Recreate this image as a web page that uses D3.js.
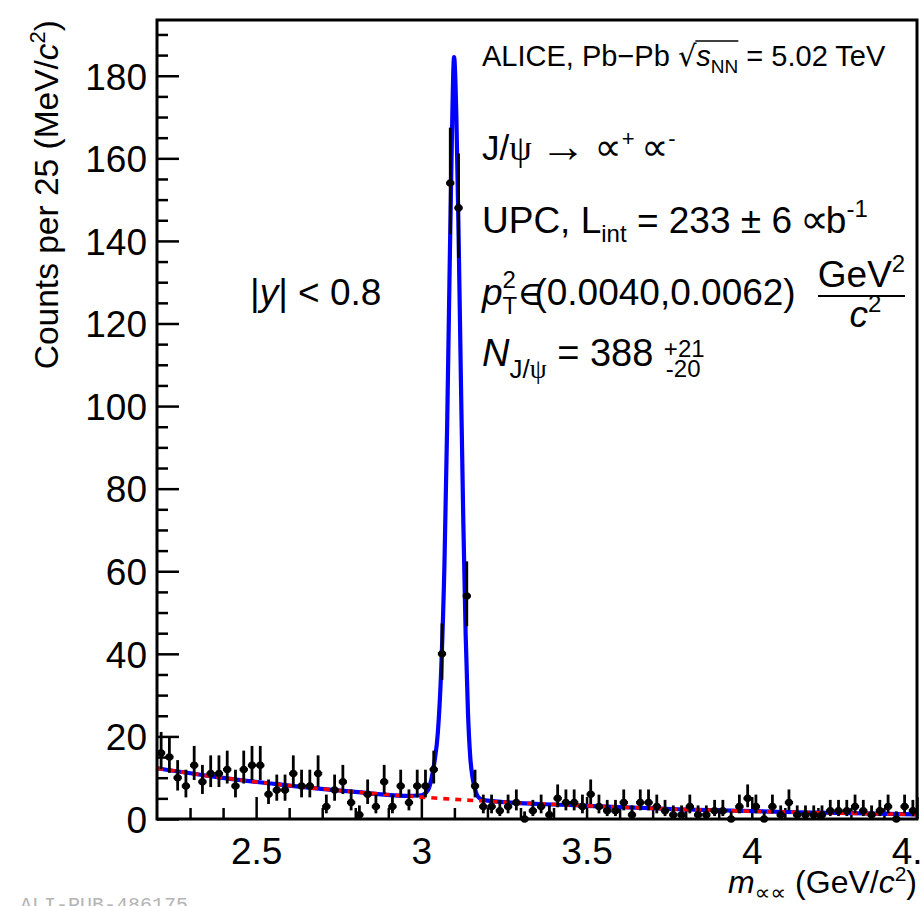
<!DOCTYPE html>
<html>
<head>
<meta charset="utf-8">
<script src="https://cdn.jsdelivr.net/npm/d3@7"></script>
<style>
  body { margin: 0; background: #fff; }
  svg { display: block; }
  text { font-family: "Liberation Sans", Arial, Helvetica, sans-serif; fill: #000; white-space: pre; }
</style>
</head>
<body>
<script>
// histogram: counts per 25 MeV bin, from 2.2 to 4.5 GeV/c2
var binLow = 2.2, binWidth = 0.025;
var counts = [16, 15, 10, 8, 13, 9, 11, 11, 12, 8, 12, 13, 13, 6, 7, 7, 11, 8, 8, 11, 3, 7, 9, 4, 1, 6, 3, 9, 3, 8,
              4, 8, 8, 12, 40, 154, 148, 54, 8, 3, 3, 2, 3, 4, 0, 2, 3, 1, 5, 4, 4, 3, 6, 3, 2, 2, 4, 1, 4, 4,
              3, 2, 1, 1, 3, 1, 1, 2, 2, 0, 3, 5, 3, 0, 3, 1, 4, 1, 1, 1, 1, 2, 2, 2, 3, 2, 1, 2, 3, 0, 3, 2];

// fit curves
var fitMass  = [2.2, 2.4, 2.6, 2.8, 2.95, 3.0, 3.02, 3.03, 3.04, 3.05, 3.06, 3.07, 3.078, 3.085, 3.092, 3.099,
                3.106, 3.113, 3.12, 3.127, 3.134, 3.141, 3.148, 3.155, 3.165, 3.18, 3.2, 3.5, 3.8, 4.1, 4.5];
var fitTotal = [12.3, 9.95, 8.1, 6.55, 5.6, 5.75, 7.0, 9.5, 14, 21, 36, 62, 95, 130, 163, 184.5,
                170, 140, 105, 72, 45, 26, 15, 10, 6.5, 4.8, 4.45, 3.2, 2.3, 1.7, 1.1];
var bgMass = [2.2, 2.4, 2.6, 2.8, 3.0, 3.2, 3.5, 3.8, 4.1, 4.5];
var bgVal  = [12.3, 9.95, 8.1, 6.55, 5.3, 4.3, 3.2, 2.3, 1.7, 1.1];

// axis ticks
var xMajor = [2.5, 3, 3.5, 4, 4.5];
var yMajor = [0, 20, 40, 60, 80, 100, 120, 140, 160, 180];

window.onload = drawChart();

function drawChart(){
    var width = 923, height = 906;
    var fLeft = 157, fRight = 917, fTop = 20, fBottom = 819;

    var svg = d3.select("body").append("svg")
        .attr("width", width)
        .attr("height", height);

    svg.append("rect").attr("width", width).attr("height", height).attr("fill", "#fff");

    var x = d3.scaleLinear().domain([2.2, 4.5]).range([fLeft, fRight]);
    var y = d3.scaleLinear().domain([0, 193.5]).range([fBottom, fTop]);

    //poisson (garwood) interval, wilson-hilferty form
    function errLow(n) {
        if (n <= 0) return 0;
        return n * Math.pow(1 - 1 / (9 * n) - 1 / (3 * Math.sqrt(n)), 3);
    }
    function errHigh(n) {
        if (n <= 0) return 1.841;
        var m = n + 1;
        return m * Math.pow(1 - 1 / (9 * m) + 1 / (3 * Math.sqrt(m)), 3);
    }

    // axes (ticks point inwards like ROOT)
    var yMinor = d3.range(0, 194, 5).filter(function(d){ return d % 20 !== 0; });
    var xMinor = d3.range(2.3, 4.5, 0.1).map(function(d){ return +d.toFixed(1); })
        .filter(function(d){ return xMajor.indexOf(d) < 0; });

    var gy = svg.append("g").attr("transform", "translate(" + fLeft + ",0)")
        .call(d3.axisLeft(y).tickValues(yMajor).tickSize(-22).tickPadding(10).tickFormat(d3.format("d")));
    var gy2 = svg.append("g").attr("transform", "translate(" + fLeft + ",0)")
        .call(d3.axisLeft(y).tickValues(yMinor).tickSize(-11).tickFormat(""));
    var gx = svg.append("g").attr("transform", "translate(0," + fBottom + ")")
        .call(d3.axisBottom(x).tickValues(xMajor).tickSize(-22).tickPadding(19).tickFormat(function(d){ return d; }));
    var gx2 = svg.append("g").attr("transform", "translate(0," + fBottom + ")")
        .call(d3.axisBottom(x).tickValues(xMinor).tickSize(-11).tickFormat(""));

    [gy, gy2, gx, gx2].forEach(function(g){
        g.select(".domain").remove();
        g.selectAll("line").attr("stroke", "#000").attr("stroke-width", 2.5);
        g.selectAll("text").style("font-size", "37px").attr("fill", "#000")
            .style("font-family", "'Liberation Sans', Arial, sans-serif");
    });
    gy.selectAll("text").attr("dy", "0.36em");

    // curves
    svg.append("clipPath").attr("id", "frame")
        .append("rect").attr("x", fLeft).attr("y", fTop).attr("width", fRight - fLeft).attr("height", fBottom - fTop);

    var line = d3.line()
        .x(function(d){ return x(d[0]); })
        .y(function(d){ return y(d[1]); })
        .curve(d3.curveMonotoneX);

    var plot = svg.append("g").attr("clip-path", "url(#frame)");

    plot.append("path")
        .datum(d3.zip(fitMass, fitTotal))
        .attr("d", line)
        .attr("fill", "none")
        .attr("stroke", "#0000ff")
        .attr("stroke-width", 4.2);

    plot.append("path")
        .datum(d3.zip(bgMass, bgVal))
        .attr("d", line)
        .attr("fill", "none")
        .attr("stroke", "#ff0000")
        .attr("stroke-width", 3.6)
        .attr("stroke-dasharray", "6,6");

    // data points
    var pts = svg.append("g").selectAll("g")
        .data(counts.map(function(c, i){ return { m: binLow + (i + 0.5) * binWidth, n: c }; }))
        .enter().append("g");

    pts.append("line")
        .attr("x1", function(d){ return x(d.m); })
        .attr("x2", function(d){ return x(d.m); })
        .attr("y1", function(d){ return y(errLow(d.n)); })
        .attr("y2", function(d){ return y(errHigh(d.n)); })
        .attr("stroke", "#000").attr("stroke-width", 2.8);

    pts.append("line")
        .attr("x1", function(d){ return x(d.m - binWidth / 2); })
        .attr("x2", function(d){ return x(d.m + binWidth / 2); })
        .attr("y1", function(d){ return y(d.n); })
        .attr("y2", function(d){ return y(d.n); })
        .attr("stroke", "#000").attr("stroke-width", 3);

    pts.append("circle")
        .attr("cx", function(d){ return x(d.m); })
        .attr("cy", function(d){ return y(d.n); })
        .attr("r", 3.8)
        .attr("fill", "#000");

    // frame
    svg.append("rect")
        .attr("x", fLeft).attr("y", fTop)
        .attr("width", fRight - fLeft).attr("height", fBottom - fTop)
        .attr("fill", "none").attr("stroke", "#000").attr("stroke-width", 3);

    // text helper: sequence of pieces laid left to right
    var txt = svg.append("g");
    function seq(x0, y0, parts) {
        var cx = x0, pos = [];
        parts.forEach(function(p){
            var t = txt.append("text")
                .attr("x", cx + (p.dx || 0))
                .attr("y", y0 + (p.dy || 0))
                .style("font-size", p.fs + "px")
                .text(p.t);
            if (p.it) t.style("font-style", "italic");
            if (p.fam) t.style("font-family", p.fam);
            var w = t.node().getComputedTextLength();
            pos.push([cx + (p.dx || 0), cx + (p.dx || 0) + w]);
            if (!p.stay) cx += (p.dx || 0) + w;
        });
        return pos;
    }
    var serif = "'Liberation Serif', 'DejaVu Serif', serif";
    var dejavu = "'DejaVu Sans', sans-serif";

    // ALICE line
    var p1 = seq(482, 66, [
        { t: "ALICE, Pb\u2212Pb ", fs: 29 },
        { t: "\u221A", fs: 29, fam: dejavu },
        { t: "s", fs: 29, it: true },
        { t: "NN", fs: 19, dy: 7 },
        { t: " = 5.02 TeV", fs: 29 }
    ]);
    txt.append("line")
        .attr("x1", p1[1][1] - 1).attr("x2", p1[3][1])
        .attr("y1", 41).attr("y2", 41)
        .attr("stroke", "#000").attr("stroke-width", 1.5);

    // J/psi line
    seq(482, 160, [
        { t: "J/", fs: 35 },
        { t: "\u03C8", fs: 36, fam: serif },
        { t: " ", fs: 30 },
        { t: "\u2192", fs: 46, fam: serif, dy: 2 },
        { t: " ", fs: 30 },
        { t: "\u221D", fs: 38, fam: dejavu },
        { t: "+", fs: 22, dy: -14 },
        { t: " ", fs: 24 },
        { t: "\u221D", fs: 38, fam: dejavu },
        { t: "-", fs: 22, dy: -14 }
    ]);

    // UPC line
    seq(482, 233, [
        { t: "UPC, L", fs: 37 },
        { t: "int", fs: 24, dy: 9 },
        { t: " = 233 \u00B1 6 ", fs: 37 },
        { t: "\u221D", fs: 40, fam: dejavu, dx: -2 },
        { t: "b", fs: 37, dx: -3 },
        { t: "-1", fs: 24, dy: -16 }
    ]);

    // pT line
    seq(482, 305, [
        { t: "p", fs: 37, it: true },
        { t: "2", fs: 24, dy: -17, stay: true },
        { t: "T", fs: 24, dy: 9 },
        { t: "\u2208", fs: 34, fam: serif },
        { t: "(0.0040,0.0062)", fs: 37, dx: -8 }
    ]);
    // fraction GeV2 / c2
    var fx = 818, fw = 87;
    var num = txt.append("text").attr("y", 287).style("font-size", "37px");
    num.append("tspan").text("GeV");
    num.append("tspan").attr("dy", -15).style("font-size", "24px").text("2");
    var nw = num.node().getComputedTextLength();
    num.attr("x", fx + (fw - nw) / 2);
    txt.append("line").attr("x1", fx).attr("x2", fx + fw).attr("y1", 296).attr("y2", 296)
        .attr("stroke", "#000").attr("stroke-width", 2);
    var den = txt.append("text").attr("y", 327).style("font-size", "37px");
    den.append("tspan").style("font-style", "italic").text("c");
    den.append("tspan").attr("dy", -15).style("font-size", "24px").text("2");
    var dw = den.node().getComputedTextLength();
    den.attr("x", fx + (fw - dw) / 2 + 4);

    // N line
    seq(482, 366, [
        { t: "N", fs: 38, it: true },
        { t: "J/", fs: 26, dy: 12 },
        { t: "\u03C8", fs: 27, dy: 12, fam: serif },
        { t: " = 388 ", fs: 38 },
        { t: "+21", fs: 24, dy: -9, stay: true },
        { t: "-20", fs: 24, dy: 11, dx: 2 }
    ]);

    // rapidity
    seq(250, 305, [
        { t: "|", fs: 37 },
        { t: "y", fs: 37, it: true },
        { t: "| < 0.8", fs: 37 }
    ]);

    // axis titles
    var yt = svg.append("text")
        .attr("transform", "translate(58," + fTop + ") rotate(-90)")
        .attr("text-anchor", "end")
        .style("font-size", "33.5px");
    yt.append("tspan").text("Counts per 25 (MeV/");
    yt.append("tspan").style("font-style", "italic").text("c");
    yt.append("tspan").attr("dy", -13).style("font-size", "22px").text("2");
    yt.append("tspan").attr("dy", 13).text(")");

    var xt = svg.append("text")
        .attr("x", fRight).attr("y", 893)
        .attr("text-anchor", "end")
        .style("font-size", "32px");
    xt.append("tspan").style("font-style", "italic").text("m");
    xt.append("tspan").attr("dy", 7).style("font-size", "22px").style("font-family", dejavu).text("\u221D\u221D");
    xt.append("tspan").attr("dy", -7).text(" (GeV/");
    xt.append("tspan").style("font-style", "italic").text("c");
    xt.append("tspan").attr("dy", -12).style("font-size", "21px").text("2");
    xt.append("tspan").attr("dy", 12).text(")");

    // watermark
    svg.append("text")
        .attr("x", 20).attr("y", 911)
        .style("font-family", "'Liberation Mono', 'DejaVu Sans Mono', monospace")
        .style("font-size", "20px")
        .style("fill", "#b4b4b4")
        .text("ALI-PUB-486175");
}
</script>
</body>
</html>
